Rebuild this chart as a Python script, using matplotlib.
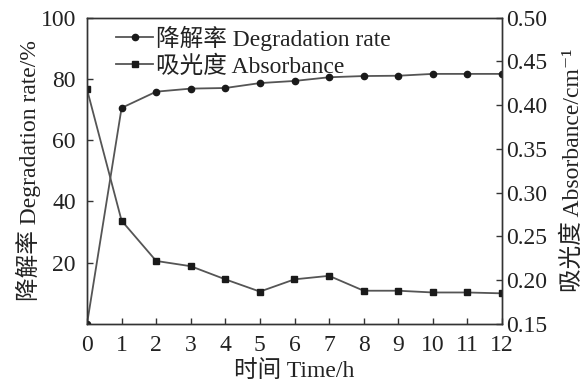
import matplotlib
matplotlib.use("Agg")
import matplotlib.pyplot as plt

plt.rcParams['font.family'] = ['Liberation Serif', 'Noto Sans CJK SC', 'DejaVu Serif']

time_h = [0, 1, 2, 3, 4, 5, 6, 7, 8, 9, 10, 11, 12]
degradation_rate = [0, 70.5, 75.8, 76.8, 77.0, 78.6, 79.3, 80.5, 80.9, 81.0, 81.6, 81.6, 81.6]
absorbance = [0.418, 0.268, 0.222, 0.216, 0.201, 0.187, 0.201, 0.205, 0.188, 0.188, 0.186, 0.186, 0.185]

line_color = '#555555'
mark_color = '#1a1a1a'
text_color = '#222222'
fs = 17

fig = plt.figure(figsize=(5.88, 3.84), dpi=100)
ax = fig.add_axes([87 / 588, 1 - 324 / 384, (502 - 87) / 588, (324 - 17.5) / 384])
ax2 = ax.twinx()

l1, = ax.plot(time_h, degradation_rate, color=line_color, lw=1.3, marker='o',
              ms=4.5, mfc=mark_color, mec=mark_color, label='降解率 Degradation rate')
l2, = ax2.plot(time_h, absorbance, color=line_color, lw=1.3, marker='s',
               ms=4.5, mfc=mark_color, mec=mark_color, label='吸光度 Absorbance')

ax.set_xlim(0, 12)
ax.set_ylim(0, 100)
ax2.set_ylim(0.15, 0.50)
ax.set_xticks(range(0, 13))
ax.set_yticks([20, 40, 60, 80, 100])
ax.set_yticklabels(['20', '40', '60', '80', '100'])
abs_ticks = [0.15, 0.20, 0.25, 0.30, 0.35, 0.40, 0.45, 0.50]
ax2.set_yticks(abs_ticks)
ax2.set_yticklabels([f'{v:.2f}' for v in abs_ticks])

for a in (ax, ax2):
    for s in a.spines.values():
        s.set_color('#333333')
        s.set_linewidth(1.0)
ax.tick_params(axis='both', direction='in', length=4, width=1, colors='#333333',
               labelcolor=text_color, labelsize=fs, pad=8)
ax.tick_params(axis='x', pad=8)
ax2.tick_params(axis='y', direction='in', length=4, width=1, colors='#333333',
                labelcolor=text_color, labelsize=fs, pad=3)

ax.set_xlabel('时间 Time/h', fontsize=fs, color=text_color, labelpad=3)
ax.set_ylabel('降解率 Degradation rate/%', fontsize=fs, color=text_color, labelpad=0)
ax2.set_ylabel('吸光度 Absorbance/cm\u207b\u00b9', fontsize=fs, color=text_color,
               rotation=90, labelpad=10)

leg = ax.legend(handles=[l1, l2], loc='upper left', frameon=False, fontsize=fs,
                handlelength=1.6, handletextpad=0.1, borderaxespad=0.2,
                labelspacing=0.2, bbox_to_anchor=(0.035, 1.02))
for t in leg.get_texts():
    t.set_color(text_color)

fig.savefig('out.png', dpi=100)
